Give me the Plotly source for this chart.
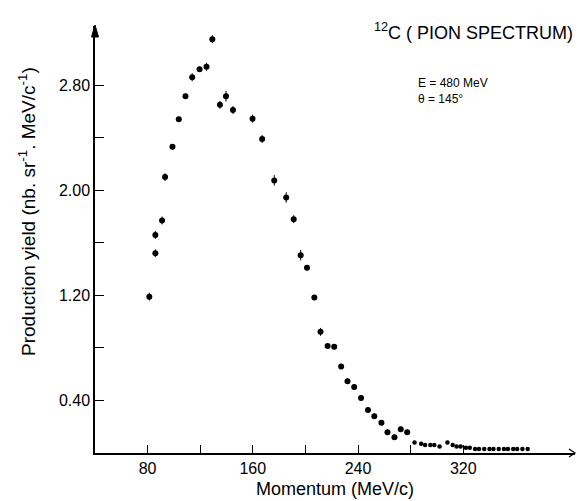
import plotly.graph_objects as go

momentum = [81.3, 85.9, 85.9, 91.0, 93.3, 98.9, 103.7, 108.8, 113.9, 119.5, 124.8, 129.2,
            135.0, 139.6, 144.9, 159.8, 167.1, 176.3, 185.4, 191.1, 196.4, 201.2, 206.8,
            211.5, 216.9, 221.9, 227.2, 232.0, 237.1, 242.3, 247.6, 252.4, 257.8, 262.4,
            267.7, 272.5, 277.4]
yield_ = [1.19, 1.52, 1.66, 1.77, 2.10, 2.33, 2.54, 2.715, 2.86, 2.92, 2.94, 3.15,
          2.65, 2.715, 2.61, 2.545, 2.39, 2.075, 1.945, 1.78, 1.506, 1.41, 1.183,
          0.922, 0.815, 0.808, 0.658, 0.546, 0.503, 0.419, 0.328, 0.28, 0.231, 0.158,
          0.12, 0.18, 0.158]
yield_err = [0.03, 0.03, 0.03, 0.03, 0.03, 0.02, 0.02, 0.02, 0.03, 0.02, 0.03, 0.03,
             0.03, 0.04, 0.03, 0.03, 0.03, 0.04, 0.04, 0.03, 0.04, 0.02, 0.02,
             0.03, 0.02, 0.02, 0.02, 0.02, 0.02, 0.02, 0.02, 0.02, 0.02, 0.02,
             0.02, 0.02, 0.02]

tail_momentum = [283, 288, 291, 295, 298, 302, 308, 312, 315, 318, 322, 325, 329, 332,
                 336, 340, 343, 347, 351, 354, 358, 361, 365, 369]
tail_yield = [0.08, 0.07, 0.06, 0.06, 0.06, 0.05, 0.08, 0.06, 0.05, 0.05, 0.04, 0.04,
              0.03, 0.03, 0.03, 0.03, 0.03, 0.03, 0.03, 0.03, 0.03, 0.03, 0.03, 0.03]

x_major = [80, 160, 240, 320]
x_minor = [120, 200, 280]
y_major = [0.4, 1.2, 2.0, 2.8]
y_minor = [0.8, 1.6, 2.4]

FONT = "Liberation Sans"
X_RANGE = [40, 405]
Y_RANGE = [0, 3.25]

fig = go.Figure()
fig.add_trace(go.Scatter(
    x=momentum, y=yield_, mode="markers",
    marker=dict(color="black", size=6),
    error_y=dict(type="data", array=yield_err, color="black", thickness=1, width=0),
    showlegend=False, hoverinfo="skip"))
fig.add_trace(go.Scatter(
    x=tail_momentum, y=tail_yield, mode="markers",
    marker=dict(color="black", size=4.5),
    showlegend=False, hoverinfo="skip"))

W, H = 578, 501
ml, mr, mt, mb = 95, 3, 26, 48

fig.update_layout(
    width=W, height=H,
    margin=dict(l=ml, r=mr, t=mt, b=mb),
    paper_bgcolor="white", plot_bgcolor="white",
    font=dict(family=FONT, color="black", size=16),
    xaxis=dict(range=X_RANGE, tickmode="array", tickvals=x_major,
               ticktext=[str(v) for v in x_major],
               ticks="inside", ticklen=8, tickwidth=1.2, tickcolor="black",
               minor=dict(tickmode="array", tickvals=x_minor, ticks="inside",
                          ticklen=8, tickwidth=1.2, tickcolor="black", showgrid=False),
               showline=True, linecolor="black", linewidth=1.5,
               showgrid=False, zeroline=False,
               tickfont=dict(size=16, family=FONT),
               title=dict(text="Momentum (MeV/c)", font=dict(size=18, family=FONT), standoff=6)),
    yaxis=dict(range=Y_RANGE, tickmode="array", tickvals=y_major,
               ticktext=["%.2f" % v for v in y_major],
               ticks="inside", ticklen=9, tickwidth=1.2, tickcolor="black",
               minor=dict(tickmode="array", tickvals=y_minor, ticks="inside",
                          ticklen=9, tickwidth=1.2, tickcolor="black", showgrid=False),
               showline=True, linecolor="black", linewidth=1.5,
               showgrid=False, zeroline=False,
               tickfont=dict(size=16, family=FONT)),
)

pw = W - ml - mr
ph = H - mt - mb

annotations = [
    dict(text="Production yield (nb. sr<sup>-1</sup>. MeV/c<sup>-1</sup>)",
         xref="paper", yref="paper", x=(27 - ml) / pw, y=(H - mb - 212) / ph,
         xanchor="center", yanchor="middle", textangle=-90, showarrow=False,
         font=dict(size=19, family=FONT)),
    dict(text="<sup>12</sup>C ( PION SPECTRUM)",
         xref="paper", yref="paper", x=1.0, y=(H - mb - 31) / ph,
         xanchor="right", yanchor="middle", showarrow=False,
         font=dict(size=18, family=FONT)),
    dict(text="E = 480 MeV",
         xref="paper", yref="paper", x=(416 - ml) / pw, y=(H - mb - 83) / ph,
         xanchor="left", yanchor="middle", showarrow=False,
         font=dict(size=12, family=FONT)),
    dict(text="θ = 145°",
         xref="paper", yref="paper", x=(416 - ml) / pw, y=(H - mb - 99) / ph,
         xanchor="left", yanchor="middle", showarrow=False,
         font=dict(size=12, family=FONT)),
]
fig.update_layout(annotations=annotations)

# axis arrowheads (decorations, pixel-sized, anchored at axis ends)
fig.add_shape(type="path", xref="paper", yref="paper",
              xsizemode="pixel", ysizemode="pixel", xanchor=0, yanchor=1,
              path="M -3.5 -11 L 0 1 L 3.5 -11 Z",
              fillcolor="black", line=dict(color="black", width=1))
fig.add_shape(type="path", xref="paper", yref="paper",
              xsizemode="pixel", ysizemode="pixel", xanchor=1, yanchor=0,
              path="M -6 4 L 0 0 L -6 -4",
              line=dict(color="black", width=1.2))

fig.write_html("out.html")
